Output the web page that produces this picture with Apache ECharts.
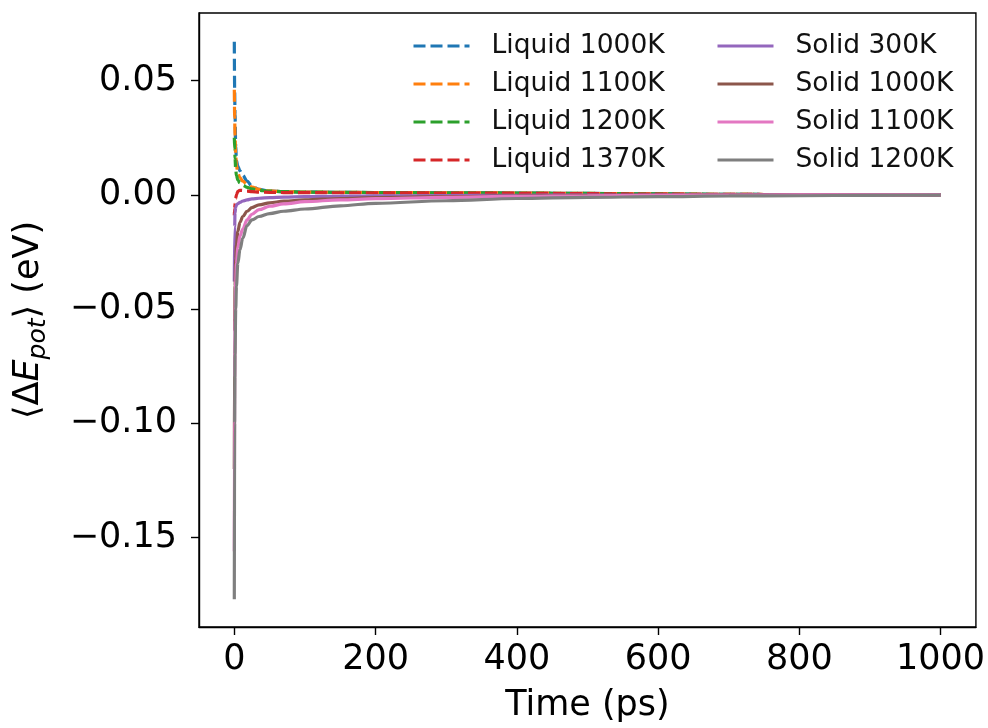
<!DOCTYPE html>
<html>
<head>
<meta charset="utf-8">
<script src="https://cdn.jsdelivr.net/npm/echarts@6/dist/echarts.min.js"></script>
<style>
  html, body { margin: 0; padding: 0; background: #fff; }
  #chart { width: 988px; height: 728px; }
</style>
</head>
<body>
<div id="chart"></div>
<script>
// Sampling times (ps), dense near t = 0 where the relaxation is fast
const timePs = [0, 0.5, 1, 2, 3, 5, 8, 12, 18, 25, 35, 50, 70, 100, 150, 200, 300, 400, 500, 600, 700, 800, 900, 1000];

// Mean potential-energy change (eV) for each run
const liquid1000 = [0.067, 0.045, 0.035, 0.021, 0.015, 0.0125, 0.0105, 0.0085, 0.006, 0.0038, 0.0024, 0.0016, 0.0014, 0.0012, 0.0011, 0.001, 0.0009, 0.0008, 0.0006, 0.0004, 0.0002, 0.0001, 0.00005, 0];
const liquid1100 = [0.046, 0.034, 0.026, 0.017, 0.013, 0.0095, 0.0075, 0.006, 0.0045, 0.0034, 0.0024, 0.0017, 0.0014, 0.0012, 0.0011, 0.001, 0.0009, 0.0008, 0.0006, 0.0004, 0.0002, 0.0001, 0.00005, 0];
const liquid1200 = [0.025, 0.02, 0.016, 0.011, 0.0085, 0.0065, 0.0052, 0.0042, 0.0033, 0.0026, 0.002, 0.0016, 0.0014, 0.0012, 0.0011, 0.001, 0.0009, 0.0008, 0.0006, 0.0004, 0.0002, 0.0001, 0.00005, 0];
const liquid1370 = [-0.009, -0.006, -0.004, -0.0015, 0, 0.0015, 0.002, 0.0019, 0.0016, 0.0014, 0.0012, 0.0011, 0.001, 0.001, 0.0009, 0.0009, 0.0008, 0.0007, 0.0005, 0.0003, 0.0002, 0.0001, 0.00005, 0];
const solid300 = [-0.038, -0.014, -0.008, -0.0055, -0.0045, -0.0038, -0.0033, -0.0027, -0.0022, -0.0018, -0.0015, -0.0012, -0.001, -0.0008, -0.0006, -0.0005, -0.0003, -0.0002, -0.00015, -0.0001, -0.00007, -0.00004, -0.00002, 0];
const solid1000 = [-0.12, -0.06, -0.04, -0.028, -0.022, -0.016, -0.012, -0.0095, -0.0072, -0.0056, -0.0044, -0.0035, -0.0028, -0.0022, -0.0016, -0.0012, -0.0008, -0.0005, -0.0003, -0.0002, -0.0001, -0.00005, -0.00002, 0];
const solid1100 = [-0.156, -0.08, -0.055, -0.038, -0.03, -0.023, -0.018, -0.015, -0.011, -0.0085, -0.0065, -0.005, -0.004, -0.003, -0.0022, -0.0017, -0.0011, -0.0007, -0.0004, -0.0002, -0.0001, -0.00005, -0.00002, 0];
const solid1200 = [-0.177, -0.1, -0.07, -0.05, -0.04, -0.03, -0.024, -0.019, -0.0135, -0.011, -0.0095, -0.0082, -0.0072, -0.0062, -0.0048, -0.0037, -0.0026, -0.0016, -0.0011, -0.0008, -0.0005, -0.0004, -0.0002, -0.0001];

// Axis ticks
const xTicks = [0, 200, 400, 600, 800, 1000];
const yTicks = [-0.15, -0.10, -0.05, 0.00, 0.05];

const liquidNames = ['Liquid 1000K', 'Liquid 1100K', 'Liquid 1200K', 'Liquid 1370K'];
const solidNames = ['Solid 300K', 'Solid 1000K', 'Solid 1100K', 'Solid 1200K'];

const FONT = 'DejaVu Sans';

function pairs(values) {
  return timePs.map((t, i) => [t, values[i]]);
}

function makeSeries(name, values, color, dashed) {
  return {
    name: name,
    type: 'line',
    data: pairs(values),
    symbol: 'none',
    showSymbol: false,
    smooth: 0.35,
    smoothMonotone: 'x',
    animation: false,
    lineStyle: {
      color: color,
      width: 3.2,
      type: dashed ? [12, 5] : 'solid'
    },
    itemStyle: { color: color },
    emphasis: { disabled: true }
  };
}

// Two legend columns: line swatch only (no marker), text to the right
const legendCommon = {
  orient: 'vertical',
  top: 31,
  padding: 0,
  itemWidth: 56,
  itemHeight: 14,
  itemGap: 8,
  itemStyle: { opacity: 0 },
  lineStyle: { width: 3 },
  textStyle: {
    fontFamily: FONT,
    fontSize: 26.5,
    color: '#111',
    lineHeight: 30,
    padding: [0, 0, 0, 17]
  }
};

const chart = echarts.init(document.getElementById('chart'), null, { renderer: 'canvas' });

chart.setOption({
  backgroundColor: '#fff',
  animation: false,
  grid: {
    left: 196,
    right: 10,
    top: 13,
    bottom: 98,
    show: true,
    borderColor: '#000',
    borderWidth: 1.4,
    containLabel: false
  },
  legend: [
    Object.assign({}, legendCommon, { left: 412, data: liquidNames }),
    Object.assign({}, legendCommon, { left: 716, data: solidNames })
  ],
  xAxis: {
    type: 'value',
    min: -50,
    max: 1050,
    name: 'Time (ps)',
    nameLocation: 'middle',
    nameGap: 61,
    nameTextStyle: { fontFamily: FONT, fontSize: 35, color: '#000' },
    axisLine: { show: true, onZero: false, lineStyle: { color: '#000', width: 1.4 } },
    axisTick: { show: true, inside: false, length: 8, customValues: xTicks, lineStyle: { color: '#000', width: 1.4 } },
    axisLabel: {
      customValues: xTicks,
      fontFamily: FONT,
      fontSize: 35,
      color: '#000',
      margin: 15,
      formatter: v => String(v)
    },
    splitLine: { show: false }
  },
  yAxis: {
    type: 'value',
    min: -0.1892,
    max: 0.0796,
    name: '{n|⟨Δ}{i|E}{s|pot}{n|⟩ (eV)}',
    nameLocation: 'middle',
    nameGap: 148,
    nameRotate: 90,
    nameTextStyle: {
      fontFamily: FONT,
      fontSize: 35,
      color: '#000',
      rich: {
        n: { fontFamily: FONT, fontSize: 35, color: '#000', lineHeight: 44 },
        i: { fontFamily: FONT, fontSize: 35, fontStyle: 'italic', color: '#000', lineHeight: 44 },
        s: { fontFamily: FONT, fontSize: 25, fontStyle: 'italic', color: '#000', lineHeight: 26, verticalAlign: 'bottom', padding: [18, 0, 0, 0] }
      }
    },
    axisLine: { show: true, onZero: false, lineStyle: { color: '#000', width: 1.4 } },
    axisTick: { show: true, inside: false, length: 8, customValues: yTicks, lineStyle: { color: '#000', width: 1.4 } },
    axisLabel: {
      customValues: yTicks,
      fontFamily: FONT,
      fontSize: 35,
      color: '#000',
      margin: 22,
      formatter: v => {
        const s = Math.abs(v).toFixed(2);
        return v < -1e-9 ? '\u2212' + s : s;
      }
    },
    splitLine: { show: false }
  },
  series: [
    makeSeries('Liquid 1000K', liquid1000, '#1f77b4', true),
    makeSeries('Liquid 1100K', liquid1100, '#ff7f0e', true),
    makeSeries('Liquid 1200K', liquid1200, '#2ca02c', true),
    makeSeries('Liquid 1370K', liquid1370, '#d62728', true),
    makeSeries('Solid 300K', solid300, '#9467bd', false),
    makeSeries('Solid 1000K', solid1000, '#8c564b', false),
    makeSeries('Solid 1100K', solid1100, '#e377c2', false),
    makeSeries('Solid 1200K', solid1200, '#7f7f7f', false)
  ]
});
</script>
</body>
</html>
